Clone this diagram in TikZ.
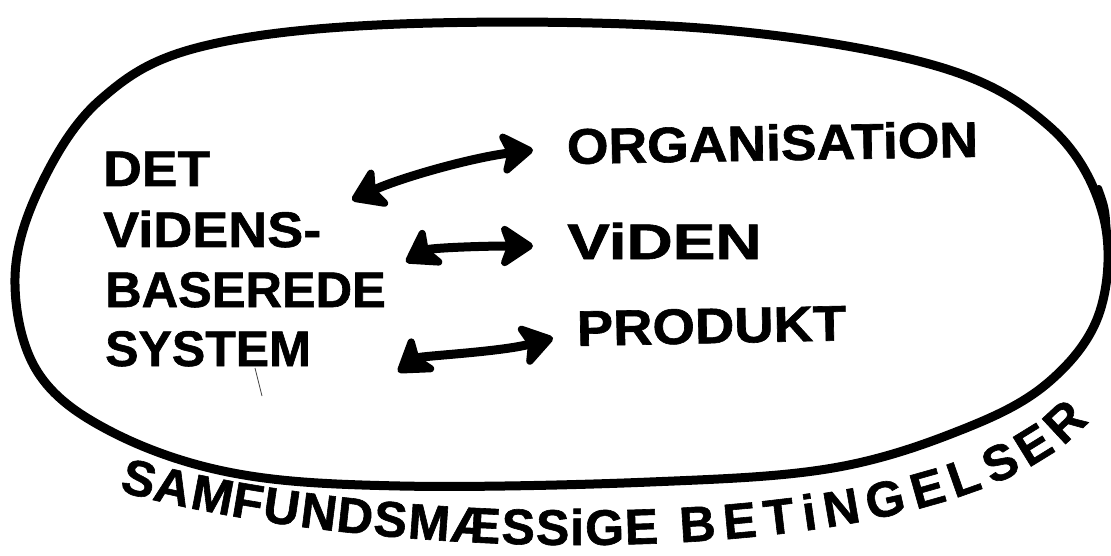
\documentclass[tikz,border=0pt]{standalone}
\usepackage{fontspec}
\setmainfont{Liberation Sans}[BoldFeatures={FakeBold=1.2}]
\usepackage{graphicx}
\usetikzlibrary{arrows.meta}
\begin{document}
\begin{tikzpicture}[x=1pt,y=-1pt,
  lbl/.style={inner sep=0pt, anchor=base west, font=\bfseries\fontsize{50}{50}\selectfont},
  curvletter/.style={inner sep=0pt, anchor=base, sloped, font=\bfseries\fontsize{50}{50}\selectfont},
  headtip/.tip={Stealth[length=38pt,width=50pt,inset=9pt,round]},
  dbl/.style={line width=9pt, line cap=round, headtip-headtip},
  rim/.style={line width=9pt, line join=round}]
\fill[white] (0,0) rectangle (1111,556);
\useasboundingbox (0,0) rectangle (1111,556);
% outer hand-drawn ellipse
\draw[rim] plot[smooth cycle, tension=0.6] coordinates {
  (15,278) (40,187) (100,100) (200,47) (400,24) (700,28) (933,65)
  (1050,127) (1103,215) (1100,311) (1050,381) (966,428) (833,468)
  (650,482) (400,486) (233,473) (110,431) (37,371)};
\draw[line width=6pt, line cap=round] (1099,188) .. controls (1107,210) .. (1108,248);
% left block
\node[lbl] (det) at (103,186) {\scalebox{1.07}[1]{DET}};
\node[lbl] (videns) at (103,247) {\scalebox{1.08}[1]{ViDENS-}};
\node[lbl] (baser) at (105,307) {\scalebox{1.01}[1]{BASEREDE}};
\node[lbl] (system) at (105,366) {SYSTEM};
% right block
\node[lbl, rotate=1] (org) at (567,164) {\scalebox{1.07}[1]{ORGANiSATiON}};
\node[lbl] (viden) at (567,259) {\scalebox{1.28}[1]{ViDEN}};
\node[lbl, rotate=1.2] (prod) at (577,346) {\scalebox{1.09}[1]{PRODUKT}};
% arrow end points
\coordinate (a1l) at (352,200);
\coordinate (a1r) at (533,150);
\coordinate (a2l) at (406,262);
\coordinate (a2r) at (533,246);
\coordinate (a3l) at (398,372);
\coordinate (a3r) at (553,338);
\draw[dbl] (a1l) .. controls (400,178) and (470,158) .. (a1r);
\draw[dbl] (a2l) .. controls (430,248) and (480,246) .. (a2r);
\draw[dbl] (a3l) .. controls (420,356) and (500,352) .. (a3r);
% stray pencil mark
\coordinate (s1) at (255,368);
\coordinate (s2) at (262,396);
\draw[line width=0.8pt, black!75] (s1) -- (s2);
% curved caption, letter by letter along the baseline curve
\coordinate (b0) at (115,490);
\coordinate (b1) at (400,570);
\coordinate (b2) at (955,575);
\coordinate (b3) at (1088,422);
\path (b0) .. controls (b1) and (b2) .. (b3)
  node[curvletter,pos=0.0228] (k01) {S}
  node[curvletter,pos=0.0601] (k02) {A}
  node[curvletter,pos=0.1016] (k03) {M}
  node[curvletter,pos=0.1366] (k04) {F}
  node[curvletter,pos=0.1690] (k05) {U}
  node[curvletter,pos=0.2037] (k06) {N}
  node[curvletter,pos=0.2365] (k07) {D}
  node[curvletter,pos=0.2681] (k08) {S}
  node[curvletter,pos=0.3020] (k09) {M}
  node[curvletter,pos=0.3423] (k10) {Æ}
  node[curvletter,pos=0.3791] (k11) {S}
  node[curvletter,pos=0.4087] (k12) {S}
  node[curvletter,pos=0.4298] (k13) {i}
  node[curvletter,pos=0.4535] (k14) {G}
  node[curvletter,pos=0.4856] (k15) {E}
  node[curvletter,pos=0.5352] (k16) {B}
  node[curvletter,pos=0.5735] (k17) {E}
  node[curvletter,pos=0.6100] (k18) {T}
  node[curvletter,pos=0.6391] (k19) {i}
  node[curvletter,pos=0.6708] (k20) {N}
  node[curvletter,pos=0.7163] (k21) {G}
  node[curvletter,pos=0.7637] (k22) {E}
  node[curvletter,pos=0.8076] (k23) {L}
  node[curvletter,pos=0.8573] (k24) {S}
  node[curvletter,pos=0.9102] (k25) {E}
  node[curvletter,pos=0.9730] (k26) {R};
\end{tikzpicture}
\end{document}
